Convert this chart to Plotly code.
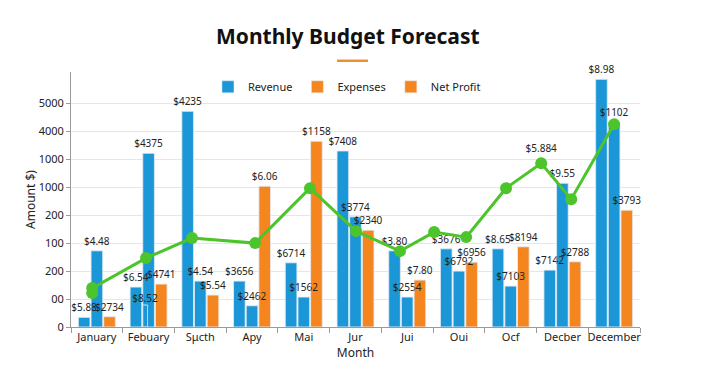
import plotly.graph_objects as go

categories = ["January", "Febuary", "Sμcth", "Apy", "Mai", "Jur", "Jui", "Oui", "Ocf", "Decber", "December"]

revenue = [216, 893, 4821, 1027, 1435, 3935, 1703, 1748, 1748, 1272, 5536]
expenses = [1703, 3884, 1027, 475, 670, 2462, 670, 1250, 915, 3214, 4583]
net_profit = [230, 960, 714, 3147, 4152, 2165, 1049, 1450, 1793, 1458, 2612]

revenue_labels = ["$5.88", "$6.54", "$4235", "$3656", "$6714", "$7408", "$3.80", "$3676", "$8.65", "$7142", "$8.98"]
expenses_labels = ["$4.48", "$4375", "$4.54", "$2462", "$1562", "$3774", "$2554", "$6792", "$7103", "$9.55", "$1102"]
profit_labels = ["$2734", "$4741", "$5.54", "$6.06", "$1158", "$2340", "$7.80", "$6956", "$8194", "$2788", "$3793"]

extra_cat = ["Febuary"]
extra_val = [491]
extra_label = ["$8.52"]

trend_x = [-0.09, -0.09, 0.95, 1.84, 3.06, 4.12, 5.01, 5.86, 6.52, 7.14, 7.91, 8.59, 9.17, 10.0]
trend_y = [759, 870, 1540, 1987, 1875, 3103, 2143, 1696, 2121, 2009, 3103, 3661, 2857, 4531]
trend_labels = ["", "", "", "", "", "", "", "", "", "", "", "$5.884", "", ""]

y_tickvals = [0, 625, 1250, 1875, 2500, 3125, 3750, 4375, 5000]
y_ticktext = ["0", "00", "200", "100", "200", "1000", "1000", "4000", "5000"]

BLUE = "#1b96d6"
ORANGE = "#f5861f"
GREEN = "#4cc42b"
FONT = "Noto Sans"
TXT = "#222222"

fig = go.Figure()

lbl_font = dict(family=FONT, size=10, color=TXT)

# bars (no text; text drawn afterwards so it sits on top of all bars)
fig.add_trace(go.Bar(name="Revenue", x=categories, y=revenue, marker_color=BLUE,
                     offsetgroup="r"))
fig.add_trace(go.Bar(name="Expenses", x=categories, y=expenses, marker_color=BLUE,
                     offsetgroup="e", showlegend=False))
fig.add_trace(go.Bar(name="Expenses", x=[categories[0]], y=[None], marker_color=ORANGE,
                     offsetgroup="p", showlegend=True))
fig.add_trace(go.Bar(name="Net Profit", x=categories, y=net_profit, marker_color=ORANGE,
                     offsetgroup="p"))
fig.add_trace(go.Bar(name="extra", x=extra_cat, y=extra_val, marker_color="rgba(27,150,214,0.75)",
                     offset=-0.115, width=0.095, showlegend=False))

# text layers
for vals, labels, grp in [(revenue, revenue_labels, "r"), (expenses, expenses_labels, "e"),
                          (net_profit, profit_labels, "p")]:
    fig.add_trace(go.Bar(x=categories, y=vals, offsetgroup=grp, marker_color="rgba(0,0,0,0)",
                         text=labels, textposition="outside", textfont=lbl_font,
                         constraintext="none", cliponaxis=False, showlegend=False,
                         hoverinfo="skip"))
fig.add_trace(go.Bar(x=extra_cat, y=extra_val, marker_color="rgba(0,0,0,0)",
                     offset=-0.115, width=0.095, text=extra_label, textposition="outside",
                     textfont=lbl_font, constraintext="none", cliponaxis=False,
                     showlegend=False, hoverinfo="skip"))

fig.add_trace(go.Scatter(x=trend_x, y=trend_y, xaxis="x2", yaxis="y", mode="lines+markers+text",
                         line=dict(color=GREEN, width=3), marker=dict(color=GREEN, size=12),
                         text=trend_labels, textposition="top center",
                         textfont=dict(family=FONT, size=10, color=TXT),
                         showlegend=False, cliponaxis=False))

fig.update_layout(
    width=704, height=384,
    margin=dict(l=71, r=64, t=72, b=57),
    paper_bgcolor="white", plot_bgcolor="white",
    font=dict(family=FONT, size=11, color=TXT),
    barmode="group", bargap=0.265, bargroupgap=0.08,
    title=dict(text="<b>Monthly Budget Forecast</b>", x=0.494, xanchor="center",
               y=1 - 37 / 384, yanchor="middle", font=dict(family=FONT, size=21, color="#111111")),
    legend=dict(orientation="h", x=0.485, xanchor="center", y=0.942, yanchor="middle",
                font=dict(family=FONT, size=11, color=TXT), itemwidth=30,
                bgcolor="rgba(0,0,0,0)", traceorder="normal"),
    xaxis=dict(type="category", categoryorder="array", categoryarray=categories,
               showline=True, linecolor="#9a9a9a", ticks="outside", tickson="boundaries",
               ticklen=5, tickcolor="#9a9a9a", showgrid=False, tickangle=0, automargin=False,
               tickfont=dict(family=FONT, size=11, color=TXT),
               title=dict(text="Month", standoff=4, font=dict(family=FONT, size=12, color=TXT))),
    xaxis2=dict(overlaying="x", range=[-0.5, 10.5], visible=False),
    yaxis=dict(range=[0, 5700], tickvals=y_tickvals, ticktext=y_ticktext, automargin=False,
               showgrid=True, gridcolor="#e6e6e6", gridwidth=1, zeroline=False,
               showline=True, linecolor="#9a9a9a", ticks="outside", ticklen=4, tickcolor="#9a9a9a",
               tickfont=dict(family=FONT, size=11, color=TXT),
               title=dict(text="Amount $)", standoff=0, font=dict(family=FONT, size=12, color=TXT))),
    shapes=[dict(type="line", xref="paper", yref="paper", x0=0.4675, x1=0.522,
                 y0=1.044, y1=1.044, line=dict(color="#e8912d", width=2.5))],
)

fig.write_html("out.html", config={"displayModeBar": False},
               post_script="document.body.style.margin='0';")
